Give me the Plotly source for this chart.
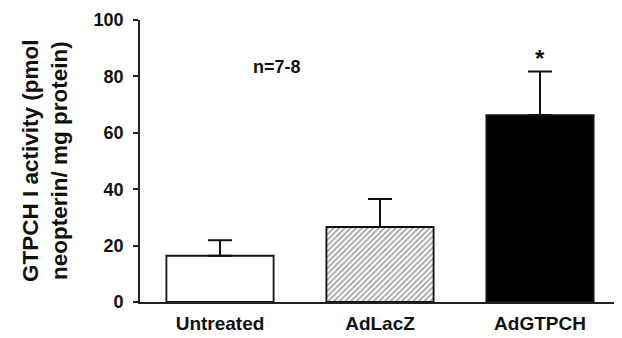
import plotly.graph_objects as go

categories = ["Untreated", "AdLacZ", "AdGTPCH"]
means = [16.4, 26.6, 66.3]
sem = [5.5, 9.9, 15.4]
fill_colors = ["white", "white", "black"]
patterns = ["", "/", ""]
y_ticks = [0, 20, 40, 60, 80, 100]

FONT = "Liberation Sans, Arial, sans-serif"
INK = "#111"

fig = go.Figure()
fig.add_trace(go.Bar(
    x=categories,
    y=means,
    width=0.67,
    marker=dict(
        color=fill_colors,
        line=dict(color=INK, width=1.8),
        pattern=dict(shape=patterns, size=4, solidity=0.45, fgcolor="#111", bgcolor="white"),
    ),
    error_y=dict(type="data", array=sem, arrayminus=[0, 0, 0], symmetric=False,
                 color=INK, thickness=2, width=12),
))

fig.add_annotation(x=0.356, y=83.5, xref="x", yref="y", text="n=7-8", showarrow=False,
                   font=dict(family=FONT, size=18, color=INK, weight="bold"))
fig.add_annotation(x=2, y=86.5, xref="x", yref="y", text="*", showarrow=False,
                   font=dict(family=FONT, size=24, color=INK, weight="bold"))
fig.add_annotation(x=0, y=0.5, xref="paper", yref="paper", xanchor="center", yanchor="middle",
                   xshift=-95, textangle=-90, showarrow=False,
                   text="GTPCH I activity (pmol<br>neopterin/ mg protein)",
                   font=dict(family=FONT, size=22.5, color=INK, weight="bold"))

fig.update_layout(
    width=614, height=330,
    margin=dict(l=132, r=2, t=8, b=36),
    paper_bgcolor="white", plot_bgcolor="white",
    showlegend=False,
    font=dict(family=FONT, color=INK),
)
fig.update_xaxes(
    range=[-0.5, 2.5], showline=True, linecolor="#222", linewidth=1.8,
    ticks="", showgrid=False, ticklabelstandoff=3,
    tickfont=dict(family=FONT, size=19, color=INK, weight="bold"),
)
fig.update_yaxes(
    range=[0, 100], tickvals=y_ticks, showline=True, linecolor="#222", linewidth=1.8,
    ticks="outside", ticklen=5, tickwidth=1.8, tickcolor="#222", showgrid=False, zeroline=False,
    ticklabelstandoff=6, ticklabeloverflow="allow",
    tickfont=dict(family=FONT, size=18, color=INK, weight="bold"),
)

fig.write_html("out.html")
